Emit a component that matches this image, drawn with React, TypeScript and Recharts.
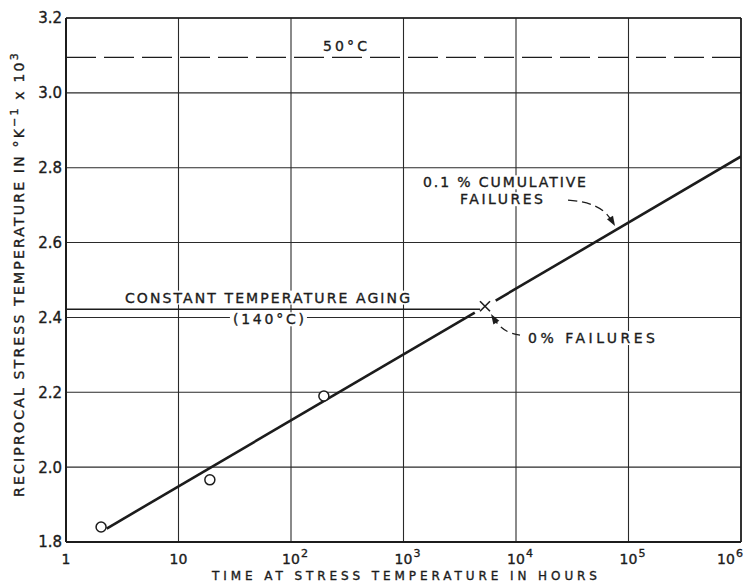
import { ComposedChart, Line, Scatter, XAxis, YAxis, CartesianGrid, ReferenceLine, ReferenceDot } from "recharts";

const xTicks = [1, 10, 100, 1000, 10000, 100000, 1000000];
const yTicks = [1.8, 2.0, 2.2, 2.4, 2.6, 2.8, 3.0, 3.2];

// test points (open circles)
const tests = [
  { x: 2.05, y: 1.84 },
  { x: 19, y: 1.966 },
  { x: 196, y: 2.19 },
];

// 0.1% cumulative failure line, broken around the x mark
const fitLow = [
  { x: 2.3, y: 1.836 },
  { x: 4300, y: 2.413 },
];
const fitHigh = [
  { x: 6600, y: 2.445 },
  { x: 1000000, y: 2.83 },
];

const zeroFail = { x: 5300, y: 2.43 };
const agingLevel = 2.422;
const agingEnd = 4800;
const level50 = 3.095;

const notes = [
  { text: "50°C", x: 302, y: 3.127 },
  { text: "CONSTANT TEMPERATURE AGING", x: 61.8, y: 2.453 },
  { text: "(140°C)", x: 63, y: 2.395 },
  { text: "0.1 % CUMULATIVE", x: 7900, y: 2.761 },
  { text: "FAILURES", x: 7430, y: 2.716 },
  { text: "0% FAILURES", x: 46900, y: 2.345 },
];
const noteWidths = [44, 285, 71, 163, 83, 127];

const ink = "#1c1c1c";
const font = "DejaVu Sans";
const heavy = { stroke: ink, strokeWidth: 0.35 };

function head(tx: number, ty: number, dx: number, dy: number) {
  const l = Math.hypot(dx, dy);
  const ux = dx / l, uy = dy / l;
  const bx = tx - ux * 10, by = ty - uy * 10;
  const nx = -uy * 3.5, ny = ux * 3.5;
  return `${tx},${ty} ${bx + nx},${by + ny} ${bx - nx},${by - ny}`;
}

const YTick = (p: any) => (
  <text x={p.x} y={p.y} dy="0.36em" textAnchor="end" fontSize={15} fontFamily={font} fill={ink} {...heavy}>
    {p.payload.value.toFixed(1)}
  </text>
);

const XTick = (p: any) => {
  const v = p.payload.value;
  const e = Math.round(Math.log10(v));
  const base = { fontSize: 14, fontFamily: font, fill: ink, ...heavy };
  if (e === 0) return <text x={p.x} y={p.y + 20} textAnchor="middle" {...base}>1</text>;
  if (e === 1) return <text x={p.x} y={p.y + 20} textAnchor="middle" {...base}>10</text>;
  return (
    <g>
      <text x={p.x} y={p.y + 20} textAnchor="middle" {...base}>10</text>
      <text x={p.x + 10} y={p.y + 13} textAnchor="start" {...base} fontSize={11}>{e}</text>
    </g>
  );
};

export default function App() {
  return (
    <div style={{ position: "absolute", left: 0, top: 0, width: 754, height: 583, background: "#fff" }}>
      <ComposedChart width={754} height={583} margin={{ top: 18, right: 13, bottom: 11, left: 10 }}>
        <CartesianGrid stroke="#2a2a2a" strokeWidth={1.1} />
        <XAxis
          dataKey="x"
          type="number"
          scale="log"
          domain={[1, 1000000]}
          ticks={xTicks}
          allowDataOverflow
          height={30}
          tickLine={false}
          tickSize={0}
          axisLine={{ stroke: ink, strokeWidth: 2 }}
          tick={<XTick />}
          label={{
            content: (p: any) => (
              <text x={p.viewBox.x + p.viewBox.width / 2 + 1} y={p.viewBox.y + 38} textAnchor="middle" fontSize={12} fontFamily={font} fill={ink} {...heavy} textLength={385} lengthAdjust="spacing">
                TIME AT STRESS TEMPERATURE IN HOURS
              </text>
            ),
          }}
        />
        <YAxis
          dataKey="y"
          type="number"
          domain={[1.8, 3.2]}
          ticks={yTicks}
          allowDataOverflow
          width={56}
          tickLine={false}
          tickSize={4}
          tickMargin={0}
          axisLine={{ stroke: ink, strokeWidth: 2 }}
          tick={<YTick />}
          label={{
            content: (p: any) => {
              const cx = p.viewBox.x + 14;
              const cy = p.viewBox.y + p.viewBox.height / 2 - 6;
              return (
                <text x={cx} y={cy} transform={`rotate(-90 ${cx} ${cy})`} textAnchor="middle" fontSize={14} fontFamily={font} fill={ink} {...heavy} letterSpacing={2.2}>
                  RECIPROCAL STRESS TEMPERATURE IN °K
                  <tspan dy={-6} fontSize={11}>−1</tspan>
                  <tspan dy={6}> x 10</tspan>
                  <tspan dy={-6} fontSize={11}>3</tspan>
                </text>
              );
            },
          }}
        />
        <ReferenceLine y={3.2} stroke={ink} strokeWidth={1.6} />
        <ReferenceLine x={1000000} stroke={ink} strokeWidth={1.6} />
        {notes.map((n, i) => (
          <ReferenceDot
            key={n.text}
            x={n.x}
            y={n.y}
            r={0}
            shape={(p: any) => (
              <g>
                <rect x={p.cx - noteWidths[i] / 2 - 3} y={p.cy - 7} width={noteWidths[i] + 6} height={14} fill="#fff" />
                <text x={p.cx - noteWidths[i] / 2} y={p.cy} dy="0.37em" fontSize={14} fontFamily={font} fill={ink} {...heavy} textLength={noteWidths[i]} lengthAdjust="spacing">
                  {n.text}
                </text>
              </g>
            )}
          />
        ))}
        <ReferenceLine y={level50} stroke={ink} strokeWidth={1.3} strokeDasharray="30 8" />
        <ReferenceLine segment={[{ x: 1, y: agingLevel }, { x: agingEnd, y: agingLevel }]} stroke={ink} strokeWidth={1.5} />
        <ReferenceDot
          x={75900}
          y={2.644}
          r={0}
          shape={(p: any) => (
            <g>
              <path d={`M${p.cx - 47},${p.cy - 26} Q${p.cx - 14},${p.cy - 24} ${p.cx - 4},${p.cy - 6}`} fill="none" stroke={ink} strokeWidth={1.3} strokeDasharray="9 5" />
              <polygon points={head(p.cx, p.cy, 14, 24)} fill={ink} />
            </g>
          )}
        />
        <ReferenceDot
          x={5995}
          y={2.409}
          r={0}
          shape={(p: any) => (
            <g>
              <path d={`M${p.cx + 29},${p.cy + 21} Q${p.cx + 12},${p.cy + 19} ${p.cx + 4},${p.cy + 6}`} fill="none" stroke={ink} strokeWidth={1.3} strokeDasharray="8 5" />
              <polygon points={head(p.cx, p.cy, -12, -19)} fill={ink} />
            </g>
          )}
        />
        <Line data={fitLow} dataKey="y" stroke={ink} strokeWidth={2.6} dot={false} isAnimationActive={false} />
        <Line data={fitHigh} dataKey="y" stroke={ink} strokeWidth={2.6} dot={false} isAnimationActive={false} />
        <Scatter
          data={tests}
          dataKey="y"
          isAnimationActive={false}
          shape={(p: any) => <circle cx={p.cx} cy={p.cy} r={5} fill="#fff" stroke={ink} strokeWidth={1.5} />}
        />
        <Scatter
          data={[zeroFail]}
          dataKey="y"
          isAnimationActive={false}
          shape={(p: any) => (
            <g stroke={ink} strokeWidth={1.6}>
              <line x1={p.cx - 5} y1={p.cy - 5} x2={p.cx + 5} y2={p.cy + 5} />
              <line x1={p.cx - 5} y1={p.cy + 5} x2={p.cx + 5} y2={p.cy - 5} />
            </g>
          )}
        />
      </ComposedChart>
    </div>
  );
}
